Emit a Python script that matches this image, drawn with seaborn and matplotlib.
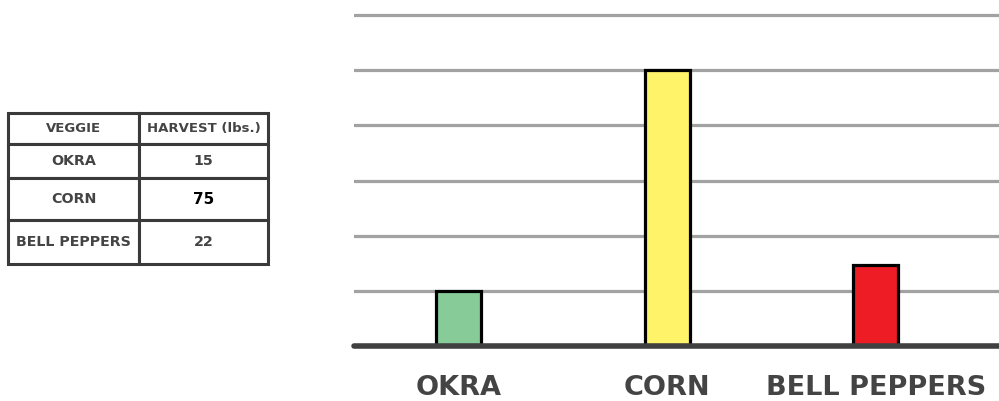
import matplotlib
matplotlib.use("Agg")
import matplotlib.pyplot as plt
import seaborn as sns
import pandas as pd

#================================
# DATA
#================================
veggies = ["OKRA", "CORN", "BELL PEPPERS"]
harvest = [15, 75, 22]
bar_colors = ["#86CB98", "#FFF36A", "#EE1C25"]
grid_ticks = [0, 15, 30, 45, 60, 75, 90]
table_header = ["VEGGIE", "HARVEST (lbs.)"]

df = pd.DataFrame({"veggie": veggies, "harvest": harvest})

#================================
# FIGURE SETUP
#================================
sns.set_style("white")
plt.rcParams["font.family"] = ["DejaVu Sans"]

fig = plt.figure(figsize=(9.99, 4.01), dpi=100)
W, H = 999, 401

#================================
# BAR CHART
#================================
ax = fig.add_axes([354 / W, (H - 346) / H, 645 / W, 336 / H])
sns.barplot(data=df, x="veggie", y="harvest", hue="veggie", palette=bar_colors,
            saturation=1, width=0.216, edgecolor="black", linewidth=2.3,
            legend=False, ax=ax)
ax.set_xlim(-0.5, 2.59)
ax.set_ylim(0, 91.4)
ax.set_yticks(grid_ticks)
ax.set_yticklabels([])
ax.yaxis.grid(True, color="#a2a2a2", linewidth=2.3)
ax.set_axisbelow(True)
ax.set_xlabel("")
ax.set_ylabel("")
for side in ["top", "left", "right"]:
    ax.spines[side].set_visible(False)
ax.spines["bottom"].set_color("#404040")
ax.spines["bottom"].set_linewidth(4)
ax.spines["bottom"].set_capstyle("round")
ax.tick_params(axis="both", length=0)
ax.tick_params(axis="x", pad=21, labelsize=19.5, labelcolor="#444444")
for lbl in ax.get_xticklabels():
    lbl.set_fontweight("bold")

#================================
# TABLE
#================================
tax = fig.add_axes([8 / W, (H - 264) / H, 260 / W, 151 / H])
tax.axis("off")
cell_text = [[v, str(h)] for v, h in zip(veggies, harvest)]
tbl = tax.table(cellText=cell_text, colLabels=table_header, cellLoc="center",
                bbox=[0, 0, 1, 1])
tbl.auto_set_font_size(False)
row_heights = [31, 34, 42, 44]
col_widths = [131, 129]
for (r, c), cell in tbl.get_celld().items():
    cell.set_height(row_heights[r])
    cell.set_width(col_widths[c])
    cell.set_edgecolor("#3a3a3a")
    cell.set_linewidth(2.2)
    txt = cell.get_text()
    txt.set_fontweight("bold")
    txt.set_color("#444444")
    txt.set_fontsize(9.5 if r == 0 else 10.3)
tbl[2, 1].get_text().set_color("black")
tbl[2, 1].get_text().set_fontsize(11)

plt.savefig("out.png", dpi=100)
